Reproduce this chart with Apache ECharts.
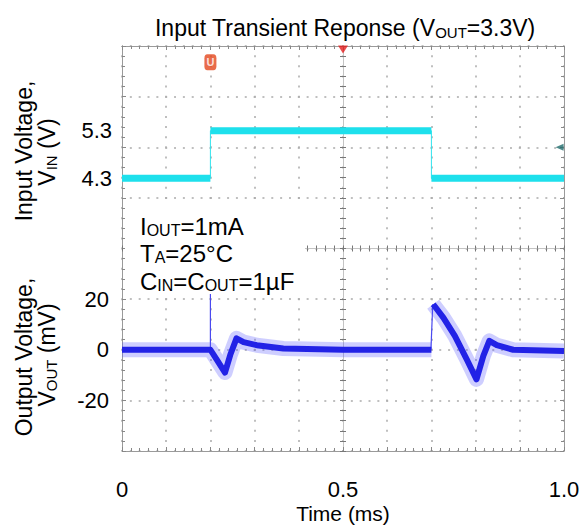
<!DOCTYPE html>
<html><head><meta charset="utf-8">
<script src="https://cdn.jsdelivr.net/npm/echarts@6/dist/echarts.min.js"></script>
<style>html,body{margin:0;padding:0;background:#fff}#c{width:585px;height:527px}</style>
</head><body><div id="c"></div>
<script>
// ---------- data ----------
const xTickValues = [0, 0.5, 1.0];
const xTickText = ['0', '0.5', '1.0'];
const vinTickValues = [4.3, 5.3];
const voutTickValues = [-20, 0, 20];

// input voltage (V) vs time (ms)
const vinTime  = [0, 0.2, 0.2, 0.7, 0.7, 1.0];
const vinVolts = [4.3, 4.3, 5.3, 5.3, 4.3, 4.3];

// output voltage deviation (mV) vs time (ms)
const voutTimeA = [0, 0.2, 0.214, 0.233, 0.245, 0.259, 0.275, 0.305, 0.365, 0.5, 0.7];
const voutMvA   = [0, 0, -3.8, -9, -2, 4.5, 3, 1.8, 0.5, 0, 0];
const voutTimeB = [0.704, 0.727, 0.753, 0.780, 0.802, 0.8175, 0.831, 0.848, 0.885, 1.0];
const voutMvB   = [18, 12.7, 5.5, -3.8, -11.7, -2.4, 3.5, 1.8, 0, -0.5];
const spikeTime = [0.2, 0.2];
const spikeMv   = [0, 22];
const stepTime  = [0.699, 0.703];
const stepMv    = [0, 18];

// scope markers (time ms, screen division 0..8)
const trigTime = [0.2];  const trigDiv = [7.68];
const centerTime = [0.5]; const centerDiv = [7.93];
const levelTime = [0.99]; const levelDiv = [6.0];

// ---------- build ----------
const pairs = (xs, ys) => xs.map((x, i) => [x, ys[i]]);
const GAP = ['-', '-'];
const vinThick = [];
for (let i = 0; i < vinTime.length; i++) {
  if (i > 0 && vinTime[i] === vinTime[i - 1]) vinThick.push(GAP);
  vinThick.push([vinTime[i], vinVolts[i]]);
}
const band = pairs(voutTimeA, voutMvA).concat([GAP], pairs(voutTimeB, voutMvB));

const FONT = 'Liberation Sans, Arial, sans-serif';
const GRID_COL = '#9a9a9a';
const dotH = { color: '#ababab', width: 1.5, type: [2, 6.84], dashOffset: 1 };
const dotV = { color: '#ababab', width: 1.5, type: [2, 8.125], dashOffset: 1 };

function frameX(extra) {
  return Object.assign({
    type: 'value', gridIndex: 0, min: 0, max: 1, interval: 0.1,
    axisLine: { show: true, onZero: false, lineStyle: { color: GRID_COL, width: 1 } },
    axisTick: { show: true, inside: true, length: 4, lineStyle: { color: '#888' } },
    minorTick: { show: true, splitNumber: 5, length: 3, lineStyle: { color: '#888' } },
    axisLabel: { show: false }, splitLine: { show: false }
  }, extra);
}
function frameY(extra) {
  return Object.assign({
    type: 'value', gridIndex: 0, min: 0, max: 8, interval: 1,
    axisLine: { show: true, onZero: false, lineStyle: { color: GRID_COL, width: 1 } },
    axisTick: { show: true, inside: true, length: 4, lineStyle: { color: '#888' } },
    minorTick: { show: true, splitNumber: 5, length: 3, lineStyle: { color: '#888' } },
    axisLabel: { show: false }, splitLine: { show: false }
  }, extra);
}
function richText(x, y, text, big, small, align, rot) {
  const el = { type: 'text', z: 10, x: x, y: y, style: {
    text: text, align: align, verticalAlign: 'middle',
    rich: { a: { fontSize: big, fontFamily: FONT, fill: '#000', lineHeight: big + 4, verticalAlign: 'bottom' },
            s: { fontSize: small, fontFamily: FONT, fill: '#000', lineHeight: small, verticalAlign: 'bottom' } } } };
  if (rot) el.rotation = rot;
  return el;
}

const option = {
  animation: false,
  backgroundColor: '#fff',
  grid: { left: 122, right: 21, top: 46, bottom: 76, containLabel: false, outerBoundsMode: 'none' },
  xAxis: [
    frameX({
      position: 'bottom',
      splitLine: { show: true, lineStyle: dotV },
      axisLabel: {
        show: true, customValues: xTickValues, margin: 27,
        color: '#000', fontSize: 22, fontFamily: FONT,
        formatter: v => { const i = xTickValues.findIndex(t => Math.abs(t - v) < 1e-9); return i >= 0 ? xTickText[i] : ''; }
      }
    }),
    frameX({ position: 'top' }),
    frameX({ position: 'bottom', offset: -202.5, axisLine: { show: true, onZero: false, lineStyle: { color: '#c4c4c4' } },
             axisTick: { show: true, inside: true, length: 3, lineStyle: { color: '#777' } },
             minorTick: { show: true, splitNumber: 5, length: 3, lineStyle: { color: '#777' } } }),
    frameX({ position: 'bottom', offset: -202.5, axisLine: { show: false, onZero: false },
             axisTick: { show: true, inside: false, length: 3, lineStyle: { color: '#777' } },
             minorTick: { show: true, splitNumber: 5, length: 3, lineStyle: { color: '#777' } } })
  ],
  yAxis: [
    { // 0: input voltage
      type: 'value', gridIndex: 0, min: -1.43, max: 7.08, position: 'left',
      axisLine: { show: false, onZero: false }, axisTick: { show: false }, splitLine: { show: false },
      axisLabel: { show: true, customValues: vinTickValues, margin: 10, color: '#000', fontSize: 22,
                   fontFamily: FONT, padding: [12, 0, 0, 0], formatter: v => v.toFixed(1) }
    },
    { // 1: output voltage mV
      type: 'value', gridIndex: 0, min: -40, max: 120, position: 'left',
      axisLine: { show: false, onZero: false }, axisTick: { show: false }, splitLine: { show: false },
      axisLabel: { show: true, customValues: voutTickValues, margin: 13, color: '#000', fontSize: 22,
                   fontFamily: FONT, padding: [8, 0, 0, 0], formatter: v => String(v) }
    },
    frameY({ position: 'left', splitLine: { show: true, lineStyle: dotH } }), // 2: divisions
    frameY({ position: 'right' }),                                          // 3
    frameY({ position: 'left', offset: -221, axisLine: { show: true, onZero: false, lineStyle: { color: '#c4c4c4' } },
             axisTick: { show: true, inside: true, length: 3, lineStyle: { color: '#777' } },
             minorTick: { show: true, splitNumber: 5, length: 3, lineStyle: { color: '#777' } } }), // 4
    frameY({ position: 'left', offset: -221, axisLine: { show: false, onZero: false },
             axisTick: { show: true, inside: false, length: 3, lineStyle: { color: '#777' } },
             minorTick: { show: true, splitNumber: 5, length: 3, lineStyle: { color: '#777' } } })  // 5
  ],
  series: [
    { type: 'line', name: 'VIN edges', xAxisIndex: 0, yAxisIndex: 0, data: pairs(vinTime, vinVolts),
      showSymbol: false, lineStyle: { color: '#2fe3ee', width: 1 }, z: 3 },
    { type: 'line', name: 'VIN', xAxisIndex: 0, yAxisIndex: 0, data: vinThick, connectNulls: false,
      showSymbol: false, lineStyle: { color: '#1ee0ec', width: 7, cap: 'butt' }, z: 3 },
    { type: 'line', name: 'VOUT spike', xAxisIndex: 0, yAxisIndex: 1, data: pairs(spikeTime, spikeMv),
      showSymbol: false, lineStyle: { color: '#4a4af0', width: 1.2 }, z: 3 },
    { type: 'line', name: 'VOUT step', xAxisIndex: 0, yAxisIndex: 1, data: pairs(stepTime, stepMv),
      showSymbol: false, lineStyle: { color: '#4a4af0', width: 1.2 }, z: 3 },
    { type: 'line', name: 'VOUT noise', xAxisIndex: 0, yAxisIndex: 1, data: band, connectNulls: false,
      showSymbol: false, lineStyle: { color: 'rgba(80,80,255,0.28)', width: 15, join: 'round', cap: 'butt' }, z: 3 },
    { type: 'line', name: 'VOUT', xAxisIndex: 0, yAxisIndex: 1, data: band, connectNulls: false,
      showSymbol: false, lineStyle: { color: '#2222e6', width: 6, join: 'round', cap: 'butt' }, z: 4 },
    { type: 'scatter', name: 'trigger', xAxisIndex: 0, yAxisIndex: 2, data: pairs(trigTime, trigDiv), clip: false,
      symbol: 'roundRect', symbolSize: [12, 16], itemStyle: { color: '#e4461c' }, z: 6,
      label: { show: true, position: 'inside', formatter: 'U', color: '#fff', fontSize: 11, fontWeight: 'bold', fontFamily: FONT } },
    { type: 'scatter', name: 'center', xAxisIndex: 0, yAxisIndex: 2, data: pairs(centerTime, centerDiv), clip: false,
      symbol: 'triangle', symbolRotate: 180, symbolSize: [10, 8], itemStyle: { color: '#e41e1e' }, z: 6 },
    { type: 'scatter', name: 'level', xAxisIndex: 0, yAxisIndex: 2, data: pairs(levelTime, levelDiv), clip: false,
      symbol: 'triangle', symbolRotate: 90, symbolSize: [7, 8], itemStyle: { color: '#1f6b6b' }, z: 6 }
  ],
  graphic: [
    { type: 'rect', z: 1, shape: { x: 125, y: 203, width: 180, height: 90 }, style: { fill: '#fff' } },
    richText(345, 26, '{a|Input Transient Reponse (V}{s|OUT}{a|=3.3V)}', 23, 15, 'center'),
    { type: 'text', z: 10, x: 343, y: 513, style: { text: 'Time (ms)', align: 'center', verticalAlign: 'middle',
        fontSize: 21, fontFamily: FONT, fill: '#000' } },
    richText(140, 224, '{a|I}{s|OUT}{a|=1mA}', 24, 16, 'left'),
    richText(140, 251, '{a|T}{s|A}{a|=25°C}', 24, 16, 'left'),
    richText(140, 279, '{a|C}{s|IN}{a|=C}{s|OUT}{a|=1µF}', 24, 16, 'left'),
    { type: 'text', z: 10, x: 24, y: 151, rotation: Math.PI / 2, style: {
        text: 'Input Voltage,', align: 'center', verticalAlign: 'middle', fontSize: 23, fontFamily: FONT, fill: '#000' } },
    richText(45, 152, '{a|V}{s|IN}{a| (V)}', 23, 15, 'center', Math.PI / 2),
    { type: 'text', z: 10, x: 24, y: 357, rotation: Math.PI / 2, style: {
        text: 'Output Voltage,', align: 'center', verticalAlign: 'middle', fontSize: 23, fontFamily: FONT, fill: '#000' } },
    richText(45, 355, '{a|V}{s|OUT}{a| (mV)}', 23, 15, 'center', Math.PI / 2)
  ]
};
const chart = echarts.init(document.getElementById('c'), null, { renderer: 'svg', width: 585, height: 527 });
chart.setOption(option);
</script></body></html>
